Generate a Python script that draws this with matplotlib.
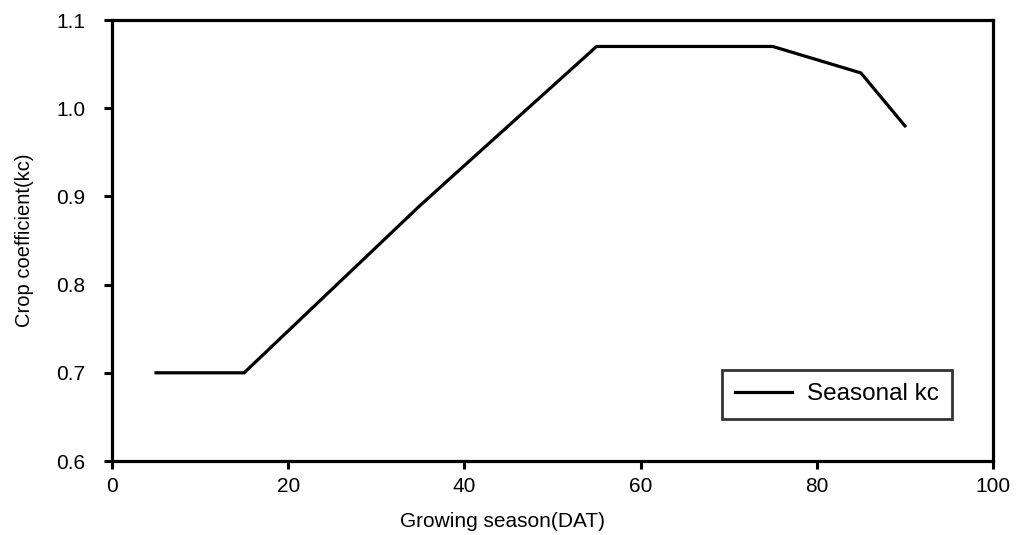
import matplotlib
matplotlib.use("Agg")
import matplotlib.pyplot as plt

# Seasonal crop coefficient curve
days = [5, 15, 35, 55, 75, 85, 90]
kc = [0.70, 0.70, 0.89, 1.07, 1.07, 1.04, 0.98]

x_ticks = [0, 20, 40, 60, 80, 100]
y_ticks = [0.6, 0.7, 0.8, 0.9, 1.0, 1.1]

plt.rcParams['font.family'] = ['Liberation Sans', 'DejaVu Sans']

fig = plt.figure(figsize=(10.16, 5.35), dpi=100)
ax = fig.add_axes([0.1102, 0.1383, 0.8672, 0.8243])

ax.plot(days, kc, color='black', linewidth=2.3, solid_joinstyle='miter',
        label='Seasonal kc')

ax.set_xlim(0, 100)
ax.set_ylim(0.6, 1.1)
ax.set_xticks(x_ticks)
ax.set_yticks(y_ticks)
ax.set_xticklabels([str(v) for v in x_ticks])
ax.set_yticklabels([f"{v:.1f}" for v in y_ticks])

for sp in ax.spines.values():
    sp.set_linewidth(2.3)
    sp.set_color('black')

ax.tick_params(direction='out', length=6, width=2.2, labelsize=15,
               colors='black')
ax.tick_params(axis='x', pad=5.5)
ax.tick_params(axis='y', pad=13)

ax.set_xlabel('Growing season(DAT)', fontsize=15)
ax.xaxis.set_label_coords(0.443, -0.115)
ax.set_ylabel('Crop coefficient(kc)', fontsize=14.5)
ax.yaxis.set_label_coords(-0.0885, 0.5)

leg = ax.legend(loc='center', bbox_to_anchor=(0.823, 0.151),
                fontsize=17.5, frameon=True, fancybox=False,
                handlelength=2.35, borderpad=0.55, handletextpad=0.6,
                borderaxespad=0)
leg.get_frame().set_edgecolor('black')
leg.get_frame().set_linewidth(2.0)

fig.savefig('out.png', dpi=100)
